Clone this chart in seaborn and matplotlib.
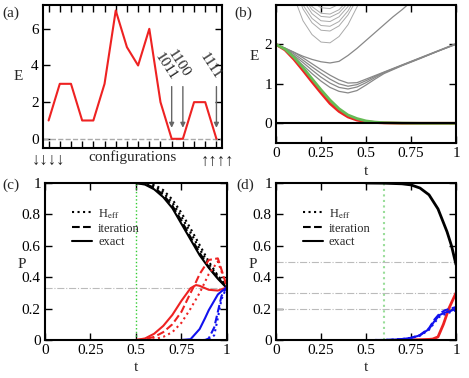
import matplotlib
matplotlib.use("Agg")
import matplotlib.pyplot as plt
from matplotlib.lines import Line2D
import seaborn as sns

# ---- panel (a): energy landscape over configurations
config_idx = list(range(16))
config_E = [1, 3, 3, 1, 1, 3, 7, 5, 4, 6, 2, 0, 0, 2, 2, 0]
marked_labels = ["1011", "1100", "1111"]
marked_idx = [11, 12, 15]

# ---- panel (b): spectrum vs t
t_main = [0, .05, .1, .15, .2, .25, .3, .35, .4, .45, .5, .55, .6, .7, .8, .9, 1.0]
E_red = [2.0, 1.86, 1.62, 1.34, 1.05, 0.77, 0.5, 0.3, 0.16, 0.08, 0.04, 0.02, 0.01, 0, 0, 0, 0]
E_green = [2.0, 1.88, 1.67, 1.41, 1.13, 0.85, 0.59, 0.37, 0.21, 0.12, 0.06, 0.03, 0.015, 0.005, 0, 0, 0]
E_low_a = [2.0, 1.91, 1.8, 1.66, 1.51, 1.36, 1.22, 1.1, 1.02, 1.03, 1.12, 1.21, 1.3, 1.48, 1.66, 1.84, 2.02]
E_low_b = [2.0, 1.9, 1.76, 1.6, 1.43, 1.27, 1.12, 1.0, 0.94, 0.98, 1.08, 1.19, 1.29, 1.47, 1.65, 1.83, 2.01]
E_low_c = [2.0, 1.89, 1.72, 1.54, 1.35, 1.17, 1.02, 0.91, 0.87, 0.92, 1.03, 1.16, 1.28, 1.47, 1.65, 1.83, 2.01]
E_low_d = [2.0, 1.88, 1.68, 1.47, 1.26, 1.07, 0.91, 0.81, 0.77, 0.83, 0.97, 1.12, 1.26, 1.46, 1.64, 1.83, 2.0]
t_dip = [0, .05, .1, .15, .2, .25, .3, .35, .4, .45, .5, .55, .6, .65, .7, .75]
E_dip = [2.0, 1.9, 1.8, 1.7, 1.62, 1.56, 1.53, 1.57, 1.72, 1.9, 2.1, 2.3, 2.5, 2.7, 2.88, 3.08]
t_up = [.05, .1, .15, .2, .25, .3, .35, .4, .45, .5, .55]
E_up = [
    [4.1, 3.2, 2.6, 2.25, 2.06, 2.04, 2.2, 2.5, 2.95, 3.5, 4.1],
    [4.3, 3.5, 2.9, 2.55, 2.36, 2.34, 2.47, 2.75, 3.15, 3.7, 4.3],
    [4.4, 3.6, 3.0, 2.66, 2.48, 2.46, 2.58, 2.85, 3.25, 3.8, 4.4],
    [4.5, 3.7, 3.12, 2.78, 2.6, 2.58, 2.7, 2.96, 3.35, 3.9, 4.5],
    [4.6, 3.8, 3.22, 2.88, 2.71, 2.69, 2.8, 3.05, 3.45, 4.0, 4.6],
    [4.7, 3.9, 3.3, 2.96, 2.79, 2.77, 2.88, 3.12, 3.5, 4.1, 4.7],
    [4.8, 4.0, 3.4, 3.08, 2.93, 2.91, 3.02, 3.25, 3.6, 4.2, 4.8],
    [4.9, 4.1, 3.5, 3.17, 3.01, 3.0, 3.1, 3.3, 3.7, 4.3, 4.9],
]

# ---- panel (c): probabilities
tc_black = [0.5, 0.55, 0.6, 0.65, 0.7, 0.75, 0.8, 0.85, 0.9, 0.95, 1.0]
Pc_black_exact = [1.0, 0.99, 0.96, 0.91, 0.84, 0.74, 0.64, 0.54, 0.46, 0.39, 0.33]
Pc_black_iter = [1.0, 0.995, 0.97, 0.925, 0.855, 0.76, 0.655, 0.555, 0.465, 0.395, 0.335]
Pc_black_heff1 = [1.0, 0.998, 0.98, 0.94, 0.875, 0.785, 0.685, 0.58, 0.485, 0.405, 0.34]
Pc_black_heff2 = [1.0, 0.999, 0.99, 0.955, 0.895, 0.81, 0.71, 0.605, 0.5, 0.41, 0.34]
tc_red = [0.5, 0.55, 0.6, 0.65, 0.7, 0.75, 0.8, 0.83, 0.85, 0.9, 0.95, 1.0]
Pc_red_exact = [0, 0.01, 0.04, 0.09, 0.16, 0.25, 0.33, 0.35, 0.345, 0.32, 0.315, 0.335]
Pc_red_iter = [0, 0.005, 0.02, 0.05, 0.1, 0.18, 0.3, 0.37, 0.42, 0.51, 0.52, 0.34]
Pc_red_heff = [0, 0.0, 0.005, 0.02, 0.05, 0.11, 0.2, 0.26, 0.3, 0.42, 0.5, 0.34]
tc_blue = [0.75, 0.8, 0.85, 0.88, 0.9, 0.93, 0.95, 0.97, 1.0]
Pc_blue_exact = [0, 0.005, 0.07, 0.14, 0.19, 0.25, 0.29, 0.31, 0.335]
Pc_blue_iter = [0, 0, 0, 0, 0.01, 0.08, 0.18, 0.28, 0.34]
Pc_blue_heff = [0, 0, 0, 0, 0.0, 0.03, 0.14, 0.26, 0.34]

# ---- panel (d): probabilities
td_black = [0.5, 0.6, 0.7, 0.75, 0.8, 0.85, 0.9, 0.95, 0.975, 1.0]
Pd_black = [1.0, 0.999, 0.995, 0.988, 0.968, 0.925, 0.835, 0.69, 0.6, 0.48]
td_blue = [0.55, 0.6, 0.65, 0.7, 0.75, 0.8, 0.85, 0.88, 0.91, 0.94, 0.97, 1.0]
Pd_blue_exact = [0, 0.0, 0.002, 0.006, 0.013, 0.03, 0.07, 0.12, 0.16, 0.175, 0.185, 0.2]
Pd_blue_iter = [0, 0.0, 0.002, 0.006, 0.014, 0.032, 0.075, 0.13, 0.17, 0.19, 0.2, 0.21]
Pd_blue_heff = [0, 0.0, 0.002, 0.005, 0.012, 0.028, 0.065, 0.11, 0.15, 0.165, 0.178, 0.19]
td_red = [0.7, 0.8, 0.85, 0.87, 0.9, 0.93, 0.96, 1.0]
Pd_red = [0, 0.002, 0.004, 0.006, 0.02, 0.1, 0.2, 0.3]

sns.set_theme(style="ticks")
plt.rcParams["font.family"] = ["Liberation Serif", "DejaVu Sans"]
plt.rcParams["mathtext.fontset"] = "stix"
plt.rcParams["axes.linewidth"] = 1.5
FS = 11


def line(ax, x, y, color, ls="-", lw=1.5):
    sns.lineplot(x=x, y=y, ax=ax, color=color, linestyle=ls, linewidth=lw,
                 sort=False, estimator=None, legend=False)


def style_axes(ax):
    ax.tick_params(direction="in", top=True, right=True, length=5, width=1,
                   labelsize=FS, colors="black", pad=3)
    for s in ax.spines.values():
        s.set_color("black")
        s.set_linewidth(1.5)
    ax.set_xlabel("")
    ax.set_ylabel("")


fig = plt.figure(figsize=(4.69, 3.78), dpi=100)
ax_a = fig.add_axes([0.0917, 0.6085, 0.3817, 0.3783])
ax_b = fig.add_axes([0.5885, 0.6217, 0.3838, 0.3651])
ax_c = fig.add_axes([0.0959, 0.1005, 0.388, 0.4153])
ax_d = fig.add_axes([0.5885, 0.1005, 0.3838, 0.4153])

# (a)
ax_a.axhline(0, color="#aaaaaa", ls="--", lw=1)
line(ax_a, config_idx, config_E, "#ee2222", lw=1.5)
ax_a.set_xlim(-0.5, 15.5)
ax_a.set_ylim(-0.5, 7.3)
ax_a.set_xticks(config_idx)
ax_a.set_xticklabels([])
ax_a.set_yticks([0, 2, 4, 6])
style_axes(ax_a)
for lab, i, dx, dy in zip(marked_labels, marked_idx, [-0.55, -0.4, -0.55], [3.95, 4.1, 3.95]):
    ax_a.annotate("", xy=(i, 0.45), xytext=(i, 3.0),
                  arrowprops=dict(arrowstyle="-|>", color="#666666", lw=1,
                                  mutation_scale=7))
    ax_a.text(i + dx, dy, lab, rotation=-57, ha="center", va="center", fontsize=FS)
ax_a.text(-0.14, 0.5, "E", transform=ax_a.transAxes, fontsize=FS, ha="center", va="center")
ax_a.text(0.5, -0.065, "configurations", transform=ax_a.transAxes, fontsize=FS,
          ha="center", va="center")
ax_a.text(0.03, -0.09, "\u2193\u2193\u2193\u2193", transform=ax_a.transAxes,
          fontsize=12, ha="center", va="center")
ax_a.text(0.975, -0.1, "\u2191\u2191\u2191\u2191", transform=ax_a.transAxes,
          fontsize=12, ha="center", va="center")
fig.text(0.005, 0.955, "(a)", fontsize=FS)

# (b)
for E in E_up:
    line(ax_b, t_up, E, "#aaaaaa", lw=0.7)
for E in [E_low_a, E_low_b, E_low_c, E_low_d]:
    line(ax_b, t_main, E, "#888888", lw=0.9)
line(ax_b, t_dip, E_dip, "#888888", lw=0.9)
line(ax_b, t_main, E_red, "#ee2222", lw=2)
line(ax_b, t_main, E_green, "#66bb55", lw=2)
ax_b.axhline(0, color="black", lw=1.5)
ax_b.set_xlim(0, 1)
ax_b.set_ylim(-0.5, 3)
ax_b.set_xticks([0, 0.25, 0.5, 0.75, 1])
ax_b.set_xticklabels(["0", "0.25", "0.5", "0.75", "1"])
ax_b.set_yticks([0, 1, 2])
style_axes(ax_b)
ax_b.set_xlabel("t", fontsize=FS)
ax_b.xaxis.set_label_coords(0.5, -0.16)
ax_b.text(-0.12, 0.63, "E", transform=ax_b.transAxes, fontsize=FS, ha="center", va="center")
fig.text(0.5, 0.955, "(b)", fontsize=FS)

# (c)
ax_c.axvline(0.5, color="#33cc33", ls=":", lw=1)
ax_c.axhline(1 / 3, color="#bbbbbb", ls="-.", lw=0.8)
line(ax_c, tc_black, Pc_black_heff1, "black", ":")
line(ax_c, tc_black, Pc_black_heff2, "black", ":")
line(ax_c, tc_black, Pc_black_iter, "black", "--")
line(ax_c, tc_black, Pc_black_exact, "black", "-")
line(ax_c, tc_red, Pc_red_heff, "#ee2222", ":")
line(ax_c, tc_red, Pc_red_iter, "#ee2222", "--")
line(ax_c, tc_red, Pc_red_exact, "#ee2222", "-")
line(ax_c, tc_blue, Pc_blue_heff, "#1111ee", ":")
line(ax_c, tc_blue, Pc_blue_iter, "#1111ee", "--")
line(ax_c, tc_blue, Pc_blue_exact, "#1111ee", "-")

# (d)
ax_d.axvline(0.6, color="#99dd99", ls=":", lw=1.5)
for y in [0.5, 0.3, 0.2]:
    ax_d.axhline(y, color="#bbbbbb", ls="-.", lw=0.8)
line(ax_d, td_black, Pd_black, "black", "-", lw=2)
line(ax_d, td_red, Pd_red, "#ee2222", "-", lw=2)
line(ax_d, td_blue, Pd_blue_heff, "#1111ee", ":")
line(ax_d, td_blue, Pd_blue_iter, "#1111ee", "--")
line(ax_d, td_blue, Pd_blue_exact, "#1111ee", "-")

handles = [Line2D([], [], color="black", ls=":", lw=1.5),
           Line2D([], [], color="black", ls="--", lw=1.5),
           Line2D([], [], color="black", ls="-", lw=1.5)]
labels = [r"H$_{\rm eff}$", "iteration", "exact"]
for ax, tag, xpos in [(ax_c, "(c)", 0.005), (ax_d, "(d)", 0.503)]:
    ax.set_xlim(0, 1)
    ax.set_ylim(0, 1)
    ax.set_xticks([0, 0.25, 0.5, 0.75, 1])
    ax.set_xticklabels(["0", "0.25", "0.5", "0.75", "1"])
    ax.set_yticks([0, 0.2, 0.4, 0.6, 0.8, 1])
    ax.set_yticklabels(["0", "0.2", "0.4", "0.6", "0.8", "1"])
    style_axes(ax)
    ax.set_xlabel("t", fontsize=FS)
    ax.xaxis.set_label_coords(0.5, -0.135)
    ax.set_ylabel("P", fontsize=FS, rotation=0)
    ax.yaxis.set_label_coords(-0.13, 0.44)
    ax.legend(handles, labels, loc="upper left", bbox_to_anchor=(0.12, 0.88),
              frameon=False, fontsize=9, handlelength=1.6, handletextpad=0.5,
              labelspacing=0.15, borderaxespad=0)
    fig.text(xpos, 0.5, tag, fontsize=FS)

fig.savefig("out.png", dpi=100)
